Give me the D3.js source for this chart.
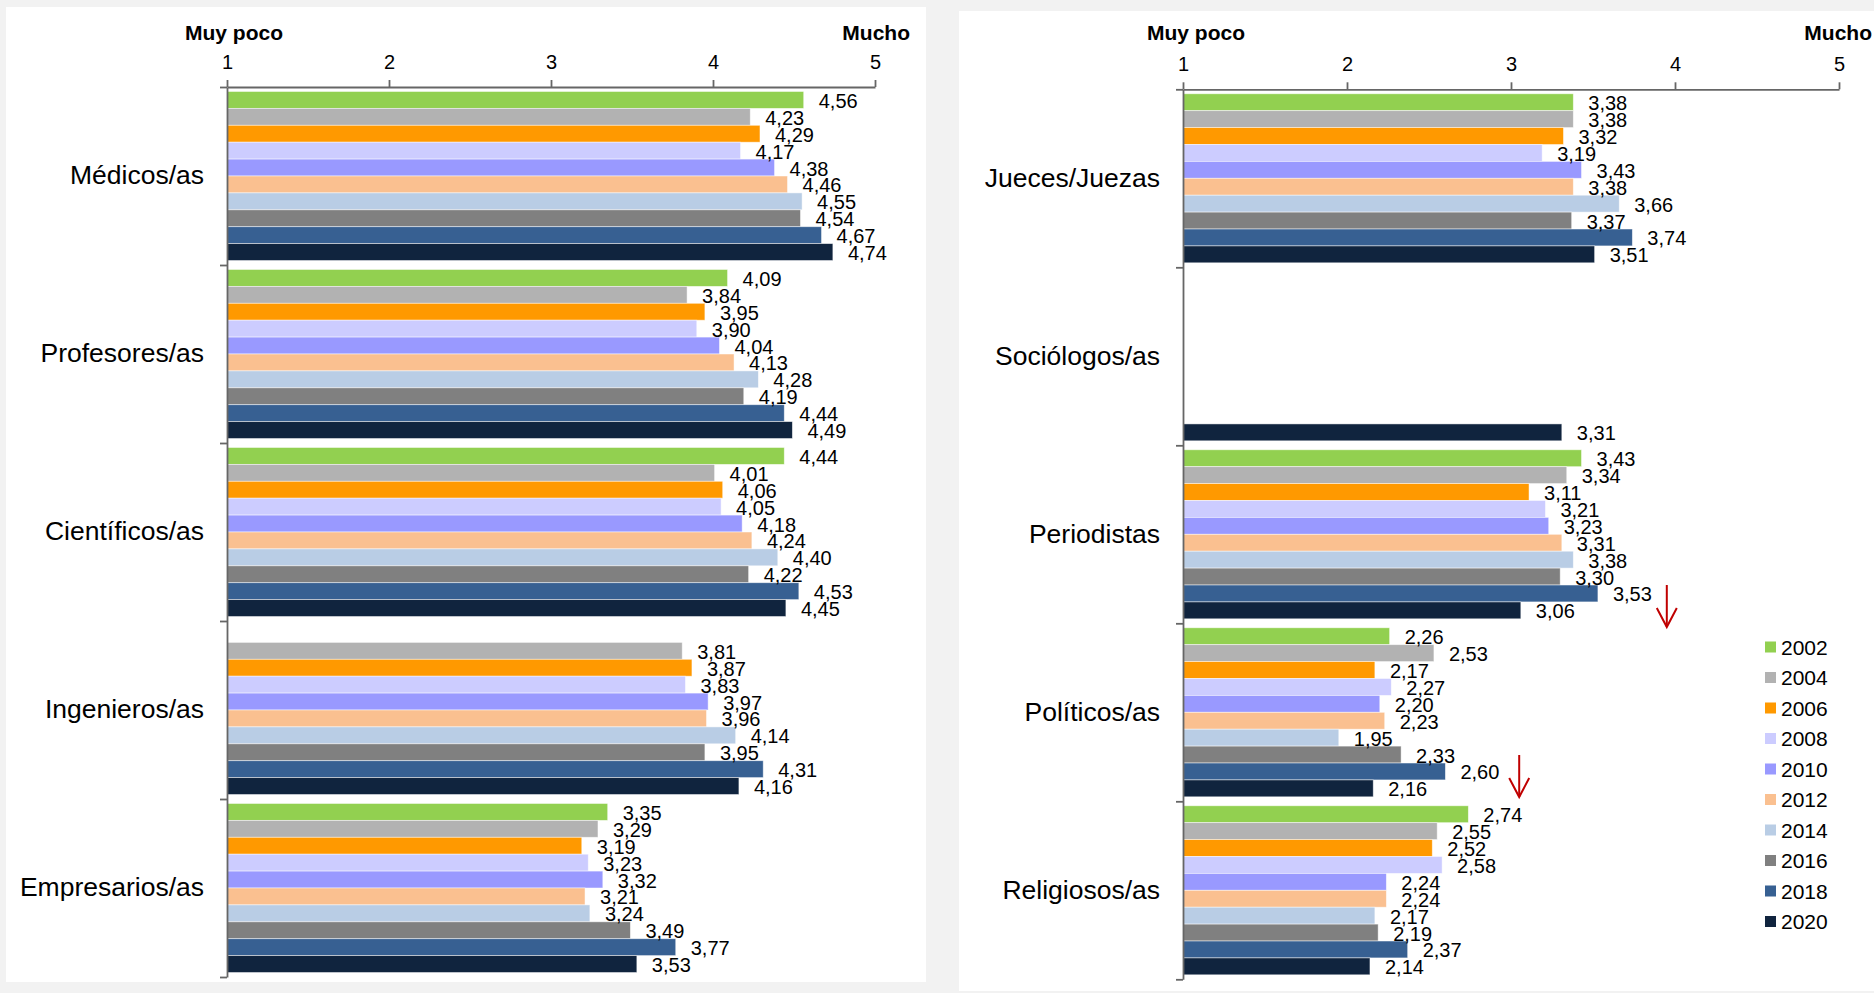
<!DOCTYPE html>
<html>
<head>
<meta charset="utf-8">
<script src="https://cdn.jsdelivr.net/npm/d3@7"></script>
<style>
  html, body { margin: 0; padding: 0; background: #f2f2f2; }
  svg { display: block; font-family: "Liberation Sans", Arial, sans-serif; }
</style>
</head>
<body>
<svg id="chart" width="1874" height="993"></svg>
<script>
// ---------- DATA ----------
const years = ["2002", "2004", "2006", "2008", "2010", "2012", "2014", "2016", "2018", "2020"];
const yearColors = ["#92D050", "#B2B2B2", "#FF9900", "#CCCCFF", "#9999FF", "#FAC090", "#B9CDE5", "#808080", "#376092", "#10243E"];
const xTicks = [1, 2, 3, 4, 5];
const axisLow = "Muy poco";
const axisHigh = "Mucho";

const leftCategories = ["Médicos/as", "Profesores/as", "Científicos/as", "Ingenieros/as", "Empresarios/as"];
const medicos      = [4.56, 4.23, 4.29, 4.17, 4.38, 4.46, 4.55, 4.54, 4.67, 4.74];
const profesores   = [4.09, 3.84, 3.95, 3.90, 4.04, 4.13, 4.28, 4.19, 4.44, 4.49];
const cientificos  = [4.44, 4.01, 4.06, 4.05, 4.18, 4.24, 4.40, 4.22, 4.53, 4.45];
const ingenieros   = [null, 3.81, 3.87, 3.83, 3.97, 3.96, 4.14, 3.95, 4.31, 4.16];
const empresarios  = [3.35, 3.29, 3.19, 3.23, 3.32, 3.21, 3.24, 3.49, 3.77, 3.53];

const rightCategories = ["Jueces/Juezas", "Sociólogos/as", "Periodistas", "Políticos/as", "Religiosos/as"];
const jueces       = [3.38, 3.38, 3.32, 3.19, 3.43, 3.38, 3.66, 3.37, 3.74, 3.51];
const sociologos   = [null, null, null, null, null, null, null, null, null, 3.31];
const periodistas  = [3.43, 3.34, 3.11, 3.21, 3.23, 3.31, 3.38, 3.30, 3.53, 3.06];
const politicos    = [2.26, 2.53, 2.17, 2.27, 2.20, 2.23, 1.95, 2.33, 2.60, 2.16];
const religiosos   = [2.74, 2.55, 2.52, 2.58, 2.24, 2.24, 2.17, 2.19, 2.37, 2.14];

// red arrows: [category, value on the x scale]
const arrowCategories = ["Periodistas", "Políticos/as"];
const arrowValues = [3.95, 3.05];

// ---------- LAYOUT ----------
const svg = d3.select("#chart");
const fmt = v => d3.format(".2f")(v).replace(".", ",");

const panels = [
  { bg: [6, 7, 920, 975], x0: 227, x1: 875, y0: 87, cats: leftCategories,
    vals: [medicos, profesores, cientificos, ingenieros, empresarios], lowX: 185 },
  { bg: [959, 11, 915, 980], x0: 1183, x1: 1839, y0: 89.3, cats: rightCategories,
    vals: [jueces, sociologos, periodistas, politicos, religiosos], lowX: 1147 }
];
const bandH = 178;

panels.forEach((p, pi) => {
  svg.append("rect").attr("x", p.bg[0]).attr("y", p.bg[1])
    .attr("width", p.bg[2]).attr("height", p.bg[3]).attr("fill", "#ffffff");

  const g = svg.append("g");
  const x = d3.scaleLinear().domain([1, 5]).range([p.x0, p.x1]);
  const yCat = d3.scaleBand().domain(p.cats).range([p.y0, p.y0 + bandH * p.cats.length]).padding(0);
  const yYear = d3.scaleBand().domain(years).range([0, yCat.bandwidth()]).paddingInner(0).paddingOuter(0.265);
  const yBound = d3.scaleLinear().domain([0, p.cats.length]).range(yCat.range());

  // bars
  p.cats.forEach((c, ci) => {
    const data = years.map((yr, i) => ({ yr, i, v: p.vals[ci][i] })).filter(d => d.v != null);
    const cg = g.append("g").attr("transform", `translate(0,${yCat(c)})`);
    cg.selectAll("rect").data(data).join("rect")
      .attr("x", x(1))
      .attr("y", d => yYear(d.yr))
      .attr("width", d => x(d.v) - x(1))
      .attr("height", yYear.bandwidth())
      .attr("fill", d => yearColors[d.i])
      .attr("stroke", "#ffffff").attr("stroke-opacity", 0.6).attr("stroke-width", 0.8);
    cg.selectAll("text").data(data).join("text")
      .attr("x", d => x(d.v) + 15)
      .attr("y", d => yYear(d.yr) + yYear.bandwidth() / 2 + 1)
      .attr("dy", "0.35em")
      .attr("font-size", 20)
      .attr("fill", "#000")
      .text(d => fmt(d.v));
  });

  // top axis
  const xAxis = g.append("g").attr("transform", `translate(0,${p.y0})`)
    .call(d3.axisTop(x).tickValues(xTicks).tickFormat(d3.format("d")).tickSize(7).tickSizeOuter(0).tickPadding(11));
  xAxis.selectAll("text").attr("font-size", 20).attr("fill", "#000").attr("font-family", "Liberation Sans, Arial, sans-serif");
  xAxis.selectAll("line, path").attr("stroke", "#666").attr("stroke-width", 1.8);

  // left axis (boundary ticks)
  const yAxis = g.append("g").attr("transform", `translate(${p.x0},0)`)
    .call(d3.axisLeft(yBound).tickValues(d3.range(p.cats.length + 1)).tickFormat("").tickSize(7).tickSizeOuter(0));
  yAxis.selectAll("line, path").attr("stroke", "#666").attr("stroke-width", 1.8);

  // category labels
  const catAxis = g.append("g").attr("transform", `translate(${p.x0},0)`)
    .call(d3.axisLeft(yCat).tickSize(0).tickPadding(23));
  catAxis.select("path").remove();
  catAxis.selectAll("text").attr("font-size", 26.5).attr("fill", "#000")
    .attr("font-family", "Liberation Sans, Arial, sans-serif");

  // axis end titles
  g.append("text").attr("x", p.lowX).attr("y", 40).attr("font-size", 21).attr("font-weight", "bold")
    .text(axisLow);
  g.append("text").attr("x", pi === 0 ? 910 : 1872).attr("y", 40).attr("text-anchor", "end")
    .attr("font-size", 21).attr("font-weight", "bold").text(axisHigh);

  // arrows (right panel)
  if (pi === 1) {
    arrowCategories.forEach((c, ai) => {
      const ax = x(arrowValues[ai]);
      const top = yCat(c) + yYear("2018") + (ai === 0 ? 0 : -8);
      const bot = top + 42;
      const ag = g.append("g").attr("stroke", "#C00000").attr("stroke-width", 2).attr("fill", "none");
      ag.append("line").attr("x1", ax).attr("x2", ax).attr("y1", top).attr("y2", bot);
      ag.append("path").attr("d", `M${ax - 10},${bot - 19}L${ax},${bot}L${ax + 10},${bot - 19}`);
    });

    // legend
    const lg = g.append("g");
    years.forEach((yr, i) => {
      const cy = 647 + i * 30.5;
      lg.append("rect").attr("x", 1765).attr("y", cy - 5.5).attr("width", 11).attr("height", 11)
        .attr("fill", yearColors[i]);
      lg.append("text").attr("x", 1781).attr("y", cy + 7.5).attr("font-size", 21).attr("fill", "#000").text(yr);
    });
  }
});
</script>
</body>
</html>
